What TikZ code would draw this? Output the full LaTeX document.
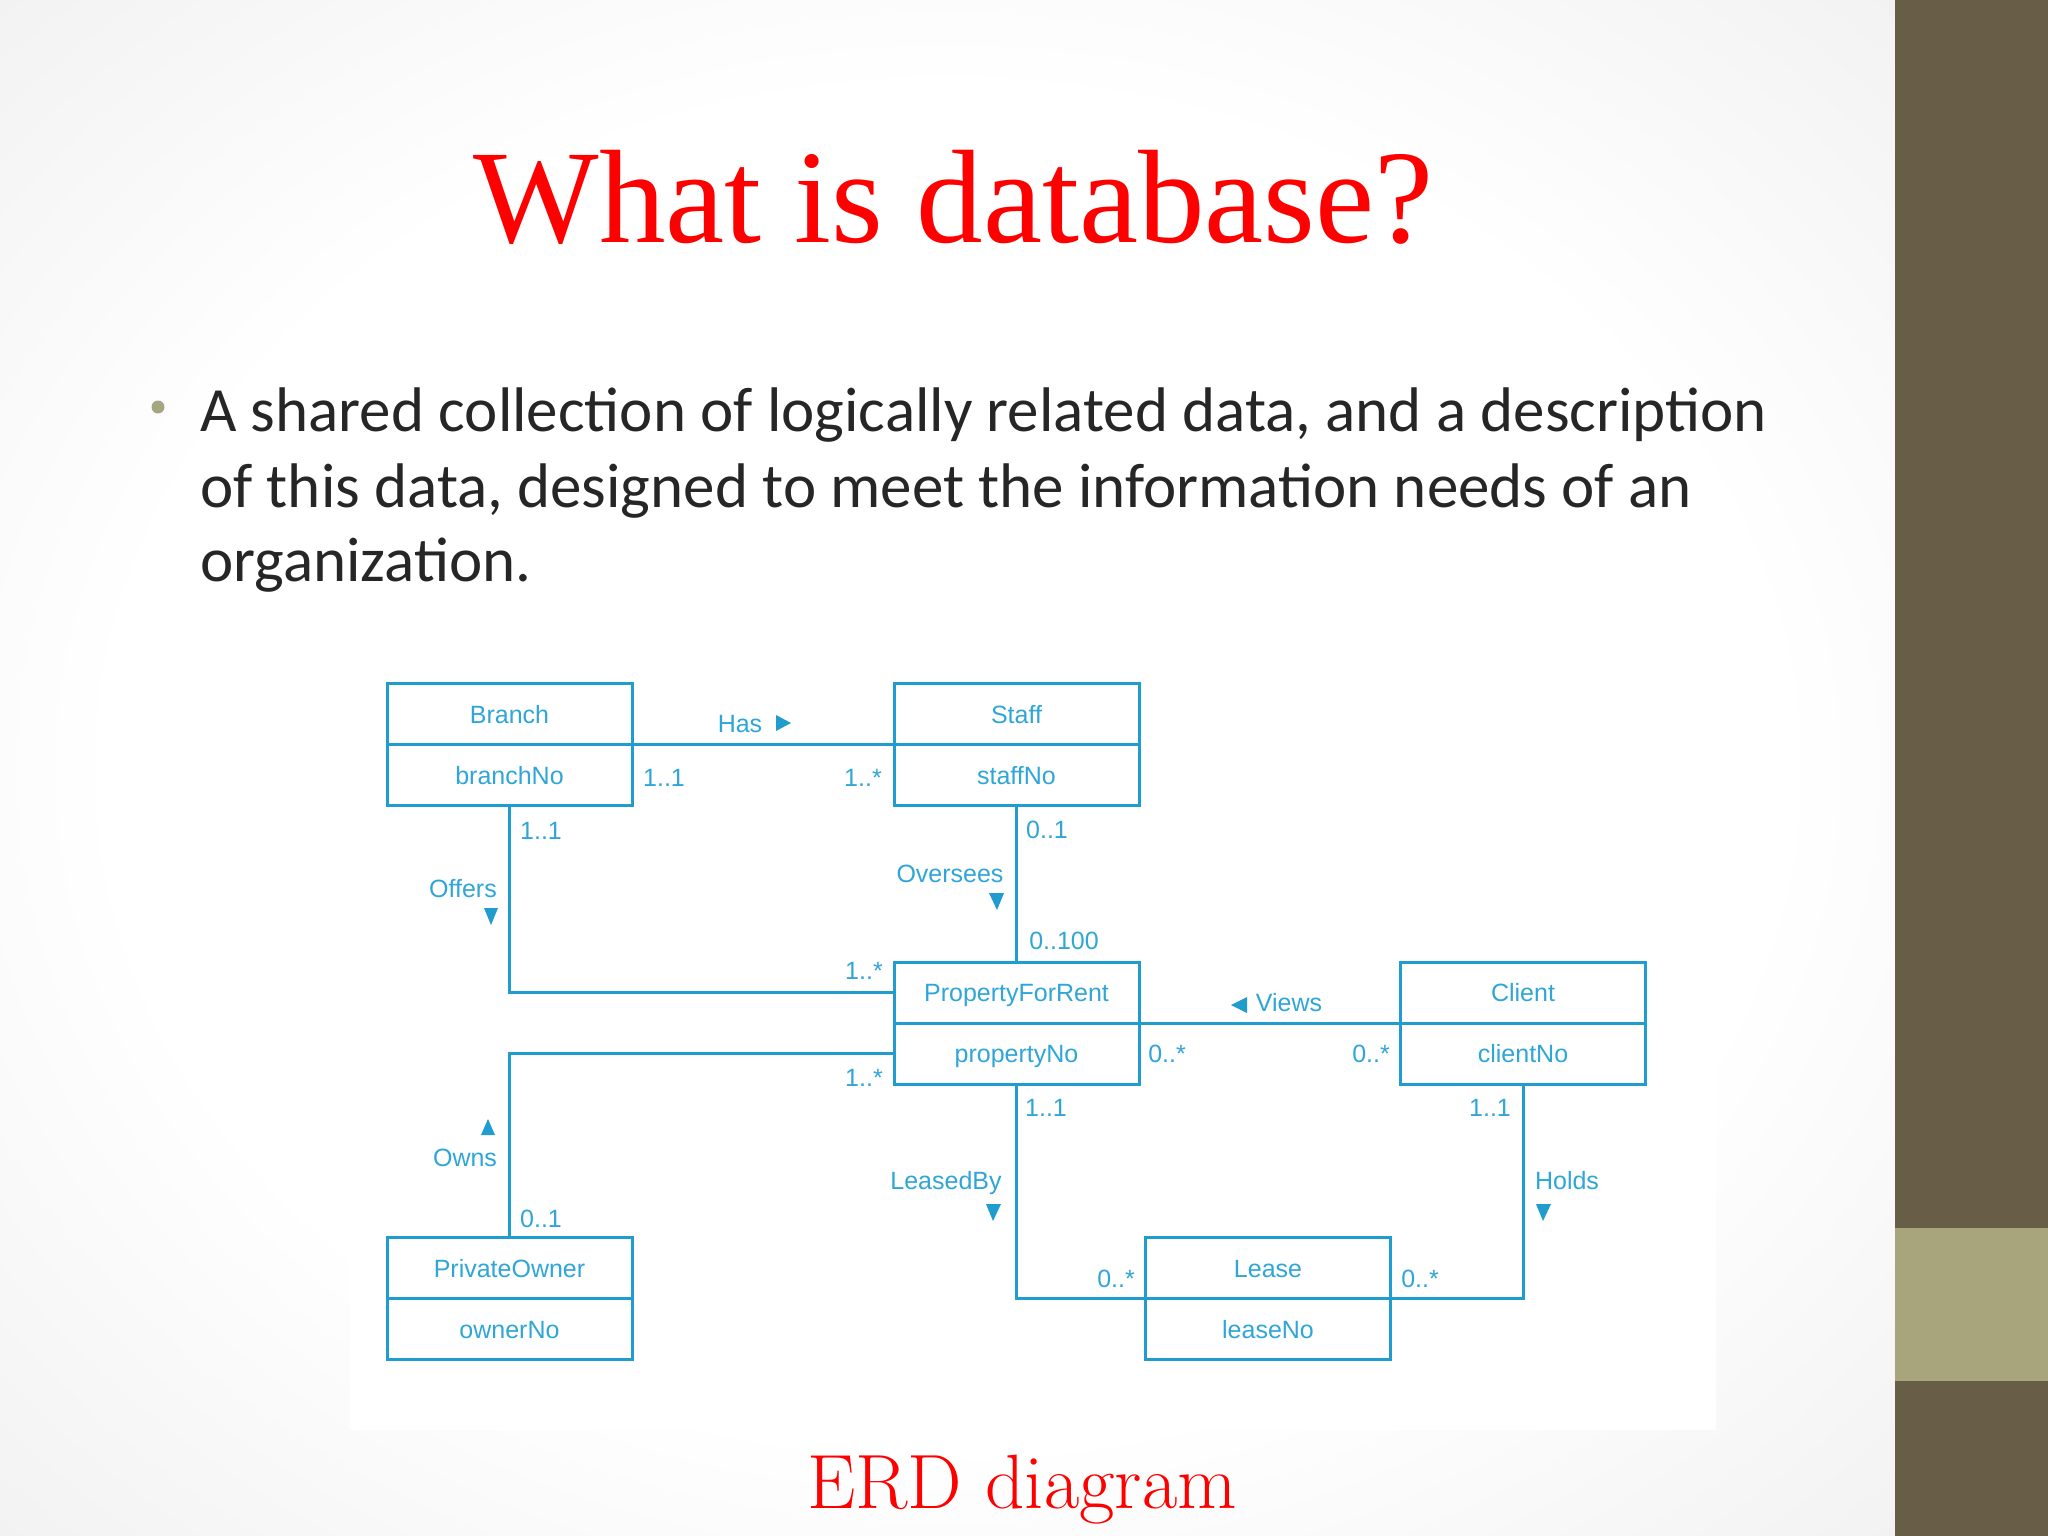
\documentclass[tikz,border=0pt]{standalone}
\usepackage{fontspec}
\usepackage{tikz}
\usetikzlibrary{positioning}

\newfontfamily\titlefont{Liberation Serif}
\newfontfamily\bodyfont{Carlito}
\newfontfamily\erdfont{Liberation Sans}

\definecolor{erdline}{RGB}{32,156,206}
\definecolor{erdtext}{RGB}{48,166,216}
\definecolor{slidebar}{RGB}{104,94,72}
\definecolor{slideband}{RGB}{168,165,125}
\definecolor{bodytext}{RGB}{38,38,38}
\definecolor{bulletcol}{RGB}{165,165,130}
\pgfdeclareradialshading{slidebg}{\pgfpoint{0bp}{0bp}}{color(0bp)=(white); color(22bp)=(white); color(72bp)=(black!19)}

\tikzset{
  entity/.style={draw=erdline, line width=3pt, minimum width=245pt, minimum height=61pt,
    inner sep=0pt, outer sep=0pt, text=erdtext, text height=18pt, text depth=0pt,
    font=\erdfont\fontsize{25}{30}\selectfont},
  rel/.style={draw=erdline, line width=3pt},
  mult/.style={text=erdtext, inner sep=0pt, text height=18pt, text depth=0pt,
    font=\erdfont\fontsize{25}{30}\selectfont},
  dirmark/.style={fill=erdline}
}

\begin{document}
\begin{tikzpicture}[x=1pt,y=-1pt]
  \useasboundingbox (0,0) rectangle (2048,1536);
  \shade[shading=slidebg] (0,0) rectangle (1895,1536);
  \fill[white] (350,655) rectangle (1716,1430);
  \fill[slidebar] (1895,0) rectangle (2048,1536);
  \fill[slideband] (1895,1228) rectangle (2048,1381);

  \node[text=red, anchor=base, inner sep=0pt, font=\titlefont\fontsize{133}{160}\selectfont] (title) at (953.5,242) {What is database?};

  \fill[bulletcol] (158,407) circle (6.5);
  \node[anchor=base west, inner sep=0pt, text=bodytext, font=\bodyfont\fontsize{63}{76}\selectfont] (line1) at (200,431) {A shared collection of logically related data, and a description};
  \node[anchor=base west, inner sep=0pt, text=bodytext, font=\bodyfont\fontsize{63}{76}\selectfont] (line2) at (200,507) {of this data, designed to meet the information needs of an};
  \node[anchor=base west, inner sep=0pt, text=bodytext, font=\bodyfont\fontsize{63}{76}\selectfont] (line3) at (200,581) {organization.};

  \node[entity] (branch) at (509.5,714) {Branch};
  \node[entity, below=0pt of branch] (branchno) {branchNo};
  \node[entity] (staff) at (1016.5,714) {Staff};
  \node[entity, below=0pt of staff] (staffno) {staffNo};
  \node[entity] (pfr) at (1016.5,992.5) {PropertyForRent};
  \node[entity, below=0pt of pfr] (pfrno) {propertyNo};
  \node[entity] (client) at (1523,992.5) {Client};
  \node[entity, below=0pt of client] (clientno) {clientNo};
  \node[entity] (owner) at (509.5,1268) {PrivateOwner};
  \node[entity, below=0pt of owner] (ownerno) {ownerNo};
  \node[entity] (lease) at (1268,1268) {Lease};
  \node[entity, below=0pt of lease] (leaseno) {leaseNo};

  \draw[rel] (branch.south east) -- (staff.south west);
  \draw[rel] (branchno.south) |- (pfr.west);
  \draw[rel] (staffno.south) -- (pfr.north);
  \draw[rel] (owner.north) |- (pfrno.west);
  \draw[rel] (pfr.south east) -- (client.south west);
  \draw[rel] (pfrno.south) |- (lease.south west);
  \draw[rel] (clientno.south) |- (lease.south east);

  \node[mult] (hasLbl) at (740,723) {Has};
  \node[mult] (offersLbl) at (463,888) {Offers};
  \node[mult] (overseesLbl) at (950,873) {Oversees};
  \node[mult] (viewsLbl) at (1289,1002) {Views};
  \node[mult] (leasedLbl) at (946,1180) {LeasedBy};
  \node[mult] (holdsLbl) at (1567,1180) {Holds};
  \node[mult] (ownsLbl) at (465,1157) {Owns};

  \fill[dirmark] (776,715) -- (776,731) -- (791,723) -- cycle;
  \fill[dirmark] (484,908) -- (498,908) -- (491,925) -- cycle;
  \fill[dirmark] (989,893) -- (1004,893) -- (997,910) -- cycle;
  \fill[dirmark] (1247,997) -- (1247,1013) -- (1231,1005) -- cycle;
  \fill[dirmark] (986,1204) -- (1001,1204) -- (993,1221) -- cycle;
  \fill[dirmark] (1536,1204) -- (1551,1204) -- (1543,1221) -- cycle;
  \fill[dirmark] (481,1135) -- (495,1135) -- (488,1119) -- cycle;

  \node[mult] (mHasA) at (664,777) {1..1};
  \node[mult] (mHasB) at (863,777) {1..*};
  \node[mult] (mOffA) at (541,830) {1..1};
  \node[mult] (mOffB) at (864,970) {1..*};
  \node[mult] (mOvA) at (1047,829) {0..1};
  \node[mult] (mOvB) at (1064,940) {0..100};
  \node[mult] (mOwnA) at (864,1077) {1..*};
  \node[mult] (mOwnB) at (541,1218) {0..1};
  \node[mult] (mViewA) at (1167,1053) {0..*};
  \node[mult] (mViewB) at (1371,1053) {0..*};
  \node[mult] (mLeaseA) at (1046,1107) {1..1};
  \node[mult] (mLeaseB) at (1116,1278) {0..*};
  \node[mult] (mHoldA) at (1490,1107) {1..1};
  \node[mult] (mHoldB) at (1420,1278) {0..*};

  \node[text=red, anchor=base, inner sep=0pt, font=\fontsize{77}{92}\selectfont] (caption) at (1022,1508) {ERD diagram};
\end{tikzpicture}
\end{document}
